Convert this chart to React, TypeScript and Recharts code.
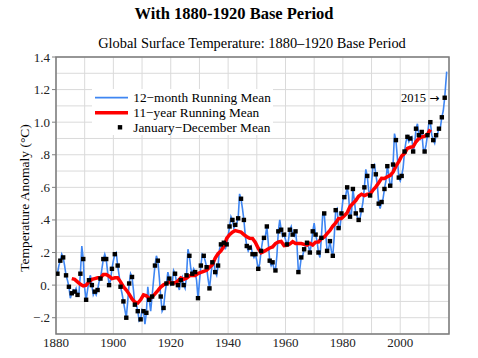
import React from 'react';
import { ComposedChart, Line, XAxis, YAxis, CartesianGrid, ReferenceArea, ReferenceDot } from 'recharts';

const SERIF = "'Liberation Serif', 'Times New Roman', serif";

const FIRST_YEAR = 1880;

// January–December annual means (°C, 1880–1920 base), 1880..2015
const annualMean = [
  0.07, 0.15, 0.17, 0.06, -0.01, -0.05, -0.04, -0.06, 0.07, 0.16,
  -0.09, 0.03, 0.0, -0.04, -0.03, 0.04, 0.16, 0.16, 0.0, 0.1,
  0.19, 0.12, -0.01, -0.1, -0.2, 0.01, 0.05, -0.12, -0.16, -0.21,
  -0.16, -0.17, -0.09, -0.07, 0.12, 0.15, -0.07, -0.14, 0.01, 0.04,
  0.01, 0.07, 0.0, 0.03, 0.0, 0.06, 0.18, 0.07, 0.08, -0.08,
  0.12, 0.18, 0.11, -0.02, 0.14, 0.08, 0.12, 0.25, 0.26, 0.25,
  0.36, 0.4, 0.37, 0.41, 0.53, 0.4, 0.24, 0.23, 0.19, 0.19,
  0.1, 0.21, 0.29, 0.36, 0.15, 0.14, 0.09, 0.33, 0.34, 0.31,
  0.25, 0.34, 0.31, 0.33, 0.08, 0.17, 0.22, 0.26, 0.2, 0.33,
  0.31, 0.2, 0.29, 0.44, 0.21, 0.27, 0.18, 0.46, 0.35, 0.44,
  0.54, 0.6, 0.42, 0.59, 0.44, 0.4, 0.46, 0.6, 0.67, 0.55,
  0.73, 0.68, 0.5, 0.51, 0.59, 0.73, 0.61, 0.74, 0.89, 0.66,
  0.67, 0.82, 0.91, 0.9, 0.82, 0.96, 0.92, 0.94, 0.82, 0.92,
  1.0, 0.89, 0.92, 0.96, 1.03, 1.15,
];

// 12-month running mean read between the annual points (at the turn of each year), 1881.0..2015.0
const twelveMonthBetween = [
  0.12, 0.19, 0.12, 0.03, -0.08, -0.03, -0.02, -0.05, 0.24, -0.02,
  -0.03, 0.06, -0.06, -0.06, 0.02, 0.1, 0.19, 0.08, 0.03, 0.15,
  0.2, 0.06, -0.05, -0.15, -0.1, 0.07, -0.03, -0.12, -0.22, -0.15,
  -0.24, -0.01, -0.16, 0.03, 0.18, 0.05, -0.16, -0.05, 0.08, 0.0,
  0.09, 0.02, -0.03, 0.05, -0.02, 0.22, 0.1, 0.1, 0.03, 0.02,
  0.19, 0.15, 0.04, 0.06, 0.15, 0.06, 0.22, 0.23, 0.22, 0.3,
  0.42, 0.35, 0.38, 0.56, 0.47, 0.3, 0.21, 0.24, 0.17, 0.15,
  0.13, 0.27, 0.3, 0.26, 0.12, 0.1, 0.18, 0.4, 0.3, 0.28,
  0.27, 0.36, 0.3, 0.25, 0.1, 0.18, 0.24, 0.24, 0.25, 0.38,
  0.27, 0.17, 0.44, 0.32, 0.22, 0.21, 0.3, 0.47, 0.35, 0.52,
  0.55, 0.55, 0.44, 0.52, 0.42, 0.41, 0.51, 0.71, 0.58, 0.63,
  0.74, 0.62, 0.47, 0.53, 0.64, 0.68, 0.62, 0.93, 0.78, 0.64,
  0.72, 0.88, 0.88, 0.91, 0.86, 0.99, 0.9, 0.84, 0.86, 1.0,
  0.92, 0.87, 0.93, 0.97, 1.07,
];

// last part of the 12-month running mean (year, value)
const twelveMonthTailYears = [2015.8, 2016.2];
const twelveMonthTailValues = [1.22, 1.31];

// 11-year running mean, centred years 1885..2010
const RUNNING_FIRST_YEAR = 1885;
const elevenYearMean = [
  0.04, 0.035, 0.02, 0.005, -0.005, 0.0, 0.02, 0.035, 0.04, 0.045,
  0.045, 0.065, 0.065, 0.055, 0.04, 0.045, 0.045, 0.02, -0.01, -0.03,
  -0.055, -0.085, -0.105, -0.11, -0.09, -0.06, -0.066, -0.084, -0.072, -0.054,
  -0.034, -0.012, 0.002, 0.011, 0.018, 0.011, 0.014, 0.026, 0.044, 0.036,
  0.042, 0.057, 0.06, 0.059, 0.071, 0.078, 0.085, 0.091, 0.109, 0.125,
  0.166, 0.193, 0.21, 0.237, 0.287, 0.31, 0.325, 0.335, 0.33, 0.325,
  0.31, 0.297, 0.287, 0.286, 0.262, 0.226, 0.199, 0.207, 0.217, 0.228,
  0.234, 0.255, 0.265, 0.268, 0.243, 0.245, 0.252, 0.267, 0.255, 0.255,
  0.255, 0.25, 0.245, 0.257, 0.246, 0.264, 0.265, 0.286, 0.295, 0.316,
  0.335, 0.362, 0.382, 0.409, 0.409, 0.426, 0.444, 0.482, 0.501, 0.519,
  0.545, 0.558, 0.549, 0.557, 0.557, 0.584, 0.603, 0.628, 0.655, 0.654,
  0.665, 0.673, 0.694, 0.73, 0.758, 0.792, 0.809, 0.839, 0.846, 0.849,
  0.88, 0.9, 0.909, 0.914, 0.925, 0.955,
];

const xTicks = [1880, 1890, 1900, 1910, 1920, 1930, 1940, 1950, 1960, 1970, 1980, 1990, 2000, 2010];
const xTickLabels = ['1880', '', '1900', '', '1920', '', '1940', '', '1960', '', '1980', '', '2000', ''];
const yTicks = [-0.3, -0.2, -0.1, 0, 0.1, 0.2, 0.3, 0.4, 0.5, 0.6, 0.7, 0.8, 0.9, 1.0, 1.1, 1.2, 1.3, 1.4];
const yTickLabels = ['', '\u2212.2', '', '0.', '', '.2', '', '.4', '', '.6', '', '.8', '', '1.0', '', '1.2', '', '1.4'];

const legendLabels = ['12\u2212month Running Mean', '11\u2212year Running Mean', 'January\u2212December Mean'];
const annotationYear = '2015';
const annotationArrow = '\u2192';

// tables built from the arrays (points placed at mid-year)
const annualData = annualMean.map((v, i) => ({ x: FIRST_YEAR + i + 0.5, y: v }));
const blueData: { x: number; y: number }[] = [];
annualMean.forEach((v, i) => {
  blueData.push({ x: FIRST_YEAR + i + 0.5, y: v });
  if (i < twelveMonthBetween.length) blueData.push({ x: FIRST_YEAR + i + 1, y: twelveMonthBetween[i] });
});
twelveMonthTailYears.forEach((yr, i) => blueData.push({ x: yr, y: twelveMonthTailValues[i] }));
const redData = elevenYearMean.map((v, i) => ({ x: RUNNING_FIRST_YEAR + i + 0.5, y: v }));

const BLUE = '#3f86f2';
const RED = '#ff0000';

const XTick = (props: any) => {
  const { x, y, payload } = props;
  const idx = xTicks.indexOf(payload.value);
  const label = idx >= 0 ? xTickLabels[idx] : '';
  return (
    <text x={x} y={y} dy="0.71em" textAnchor="middle" fontFamily={SERIF} fontSize={13} fill="#222">
      {label}
    </text>
  );
};

const YTick = (props: any) => {
  const { x, y, payload } = props;
  const idx = yTicks.findIndex((t) => Math.abs(t - payload.value) < 1e-6);
  const label = idx >= 0 ? yTickLabels[idx] : '';
  if (!label) return <g />;
  return (
    <g>
      <line x1={x + 2} x2={x + 6} y1={y} y2={y} stroke="#808080" strokeWidth={1} />
      <text x={x} y={y} dy="0.35em" textAnchor="end" fontFamily={SERIF} fontSize={13} fill="#222">
        {label}
      </text>
    </g>
  );
};

const SquareDot = (props: any) => {
  const { cx, cy, index } = props;
  if (cx == null || cy == null) return <g key={`d${index}`} />;
  return <rect key={`d${index}`} x={cx - 2.2} y={cy - 2.2} width={4.4} height={4.4} fill="#000" />;
};

const AnnotationLabel = (props: any) => {
  const vb = props.viewBox || {};
  const x = (vb.x ?? 0) - 3.5;
  const y = (vb.y ?? 0) + (vb.height ?? 0) / 2;
  return (
    <text x={x} y={y} dy="0.35em" textAnchor="end" fontSize={12.5} fill="#000">
      <tspan fontFamily={SERIF}>{annotationYear} </tspan>
      <tspan fontFamily="'DejaVu Sans', sans-serif" fontSize={12}>{annotationArrow}</tspan>
    </text>
  );
};

export default function App() {
  return (
    <div style={{ position: 'absolute', left: 0, top: 0, width: 478, height: 358, background: '#fff', fontFamily: SERIF }}>
      <div style={{ position: 'absolute', left: 0, top: 5, width: 468, textAlign: 'center', fontSize: 16.5, fontWeight: 'bold', lineHeight: '17px', color: '#000' }}>
        With 1880-1920 Base Period
      </div>
      <div style={{ position: 'absolute', left: 52, top: 36, width: 400, textAlign: 'center', fontSize: 14.4, lineHeight: '15px', color: '#000' }}>
        Global Surface Temperature: 1880{'\u2013'}1920 Base Period
      </div>
      <div style={{ position: 'absolute', left: 25 - 110, top: 198 - 8, width: 220, height: 16, textAlign: 'center', fontSize: 13.5, lineHeight: '16px', color: '#000', transform: 'rotate(-90deg)', transformOrigin: '50% 50%' }}>
        Temperature Anomaly (°C)
      </div>
      <ComposedChart width={478} height={358} margin={{ top: 57, right: 29, bottom: 0, left: 0 }} style={{ position: 'absolute', left: 0, top: 0 }}>
        <CartesianGrid stroke="#dadada" strokeWidth={1} />
        <XAxis
          type="number"
          dataKey="x"
          domain={[1880, 2017]}
          allowDataOverflow
          ticks={xTicks}
          interval={0}
          height={24}
          axisLine={false}
          tickLine={false}
          tickSize={0}
          tickMargin={4}
          tick={<XTick />}
        />
        <YAxis
          type="number"
          domain={[-0.3, 1.4]}
          allowDataOverflow
          ticks={yTicks}
          interval={0}
          width={56}
          axisLine={false}
          tickLine={false}
          tickSize={4}
          tickMargin={2}
          tick={<YTick />}
        />
        <ReferenceArea x1={1880} x2={2017} y1={-0.3} y2={1.4} fill="none" stroke="#7a7a7a" strokeWidth={1.5} />
        <Line data={blueData} dataKey="y" type="linear" stroke={BLUE} strokeWidth={1.6} dot={false} isAnimationActive={false} />
        <Line data={redData} dataKey="y" type="linear" stroke={RED} strokeWidth={3.5} dot={false} isAnimationActive={false} />
        <Line data={annualData} dataKey="y" type="linear" stroke="none" strokeWidth={0} dot={<SquareDot />} activeDot={false} isAnimationActive={false} />
        <ReferenceDot
          x={annualData[annualData.length - 1].x}
          y={annualData[annualData.length - 1].y}
          r={2}
          fill="none"
          stroke="none"
          label={<AnnotationLabel />}
        />
      </ComposedChart>
      <div style={{ position: 'absolute', left: 92, top: 89, width: 181, height: 46, background: '#fff' }}>
        <svg width={181} height={46} style={{ display: 'block' }}>
          <line x1={3} x2={36} y1={8.7} y2={8.7} stroke={BLUE} strokeWidth={1.8} />
          <line x1={3} x2={36} y1={23.7} y2={23.7} stroke={RED} strokeWidth={3.5} />
          <rect x={28 - 2.2} y={38.3 - 2.2} width={4.4} height={4.4} fill="#000" />
          {legendLabels.map((t, i) => (
            <text key={t} x={41.3} y={8.7 + i * 14.8} dy="0.35em" fontFamily={SERIF} fontSize={13.3} fill="#000">
              {t}
            </text>
          ))}
        </svg>
      </div>
    </div>
  );
}
